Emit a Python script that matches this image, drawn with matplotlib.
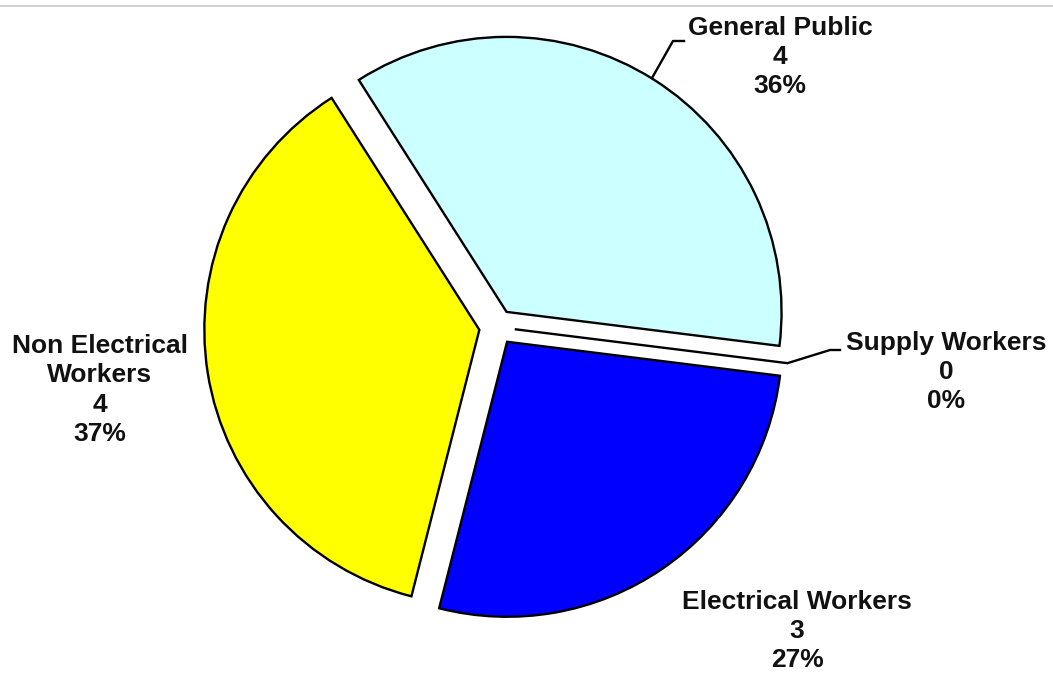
import matplotlib
matplotlib.use("Agg")
import matplotlib.pyplot as plt

categories = ["General Public", "Supply Workers", "Electrical Workers", "Non Electrical\nWorkers"]
counts = [4, 0, 3, 4]
percents = [36, 0, 27, 37]
colors = ["#CCFFFF", "#FFFFFF", "#0000FF", "#FFFF00"]

W, H = 1053, 673
R = 275.0           # pie radius in px
CX, CY = 497, 327   # pie centre in px (from top)

def px(x, y):
    return ((x - CX) / R, (CY - y) / R)

fig = plt.figure(figsize=(W / 100, H / 100), dpi=100)
ax = fig.add_axes([0, 0, 1, 1])

ax.pie(percents, colors=colors, startangle=122.5, counterclock=False,
       explode=[0.065] * len(percents), radius=1.0,
       wedgeprops=dict(edgecolor="black", linewidth=1.7))
ax.set_aspect("auto")
ax.set_xlim(px(0, 0)[0], px(W, 0)[0])
ax.set_ylim(px(0, H)[1], px(0, 0)[1])
ax.axis("off")

# top grey rule
fig.add_artist(plt.Line2D([0, 1], [1 - 6 / H, 1 - 6 / H], color="#c8c8c8", lw=1.2,
                          transform=fig.transFigure))

label_pos = [(780, 57), (946, 372), (797, 631), (100, 390)]
for cat, c, p, (lx, ly) in zip(categories, counts, percents, label_pos):
    x, y = px(lx, ly)
    ax.text(x, y, f"{cat}\n{c}\n{p}%", ha="center", va="center",
            fontsize=19, fontweight="bold", family="Liberation Sans",
            linespacing=1.28, color="#111111")

# leader lines
leaders = [
    [(652, 78), (673, 41), (684, 41)],
    [(788, 363), (830, 350), (840, 350)],
]
for pts in leaders:
    xs, ys = zip(*[px(a, b) for a, b in pts])
    ax.plot(xs, ys, color="black", lw=1.7)

fig.savefig("out.png", dpi=100)
